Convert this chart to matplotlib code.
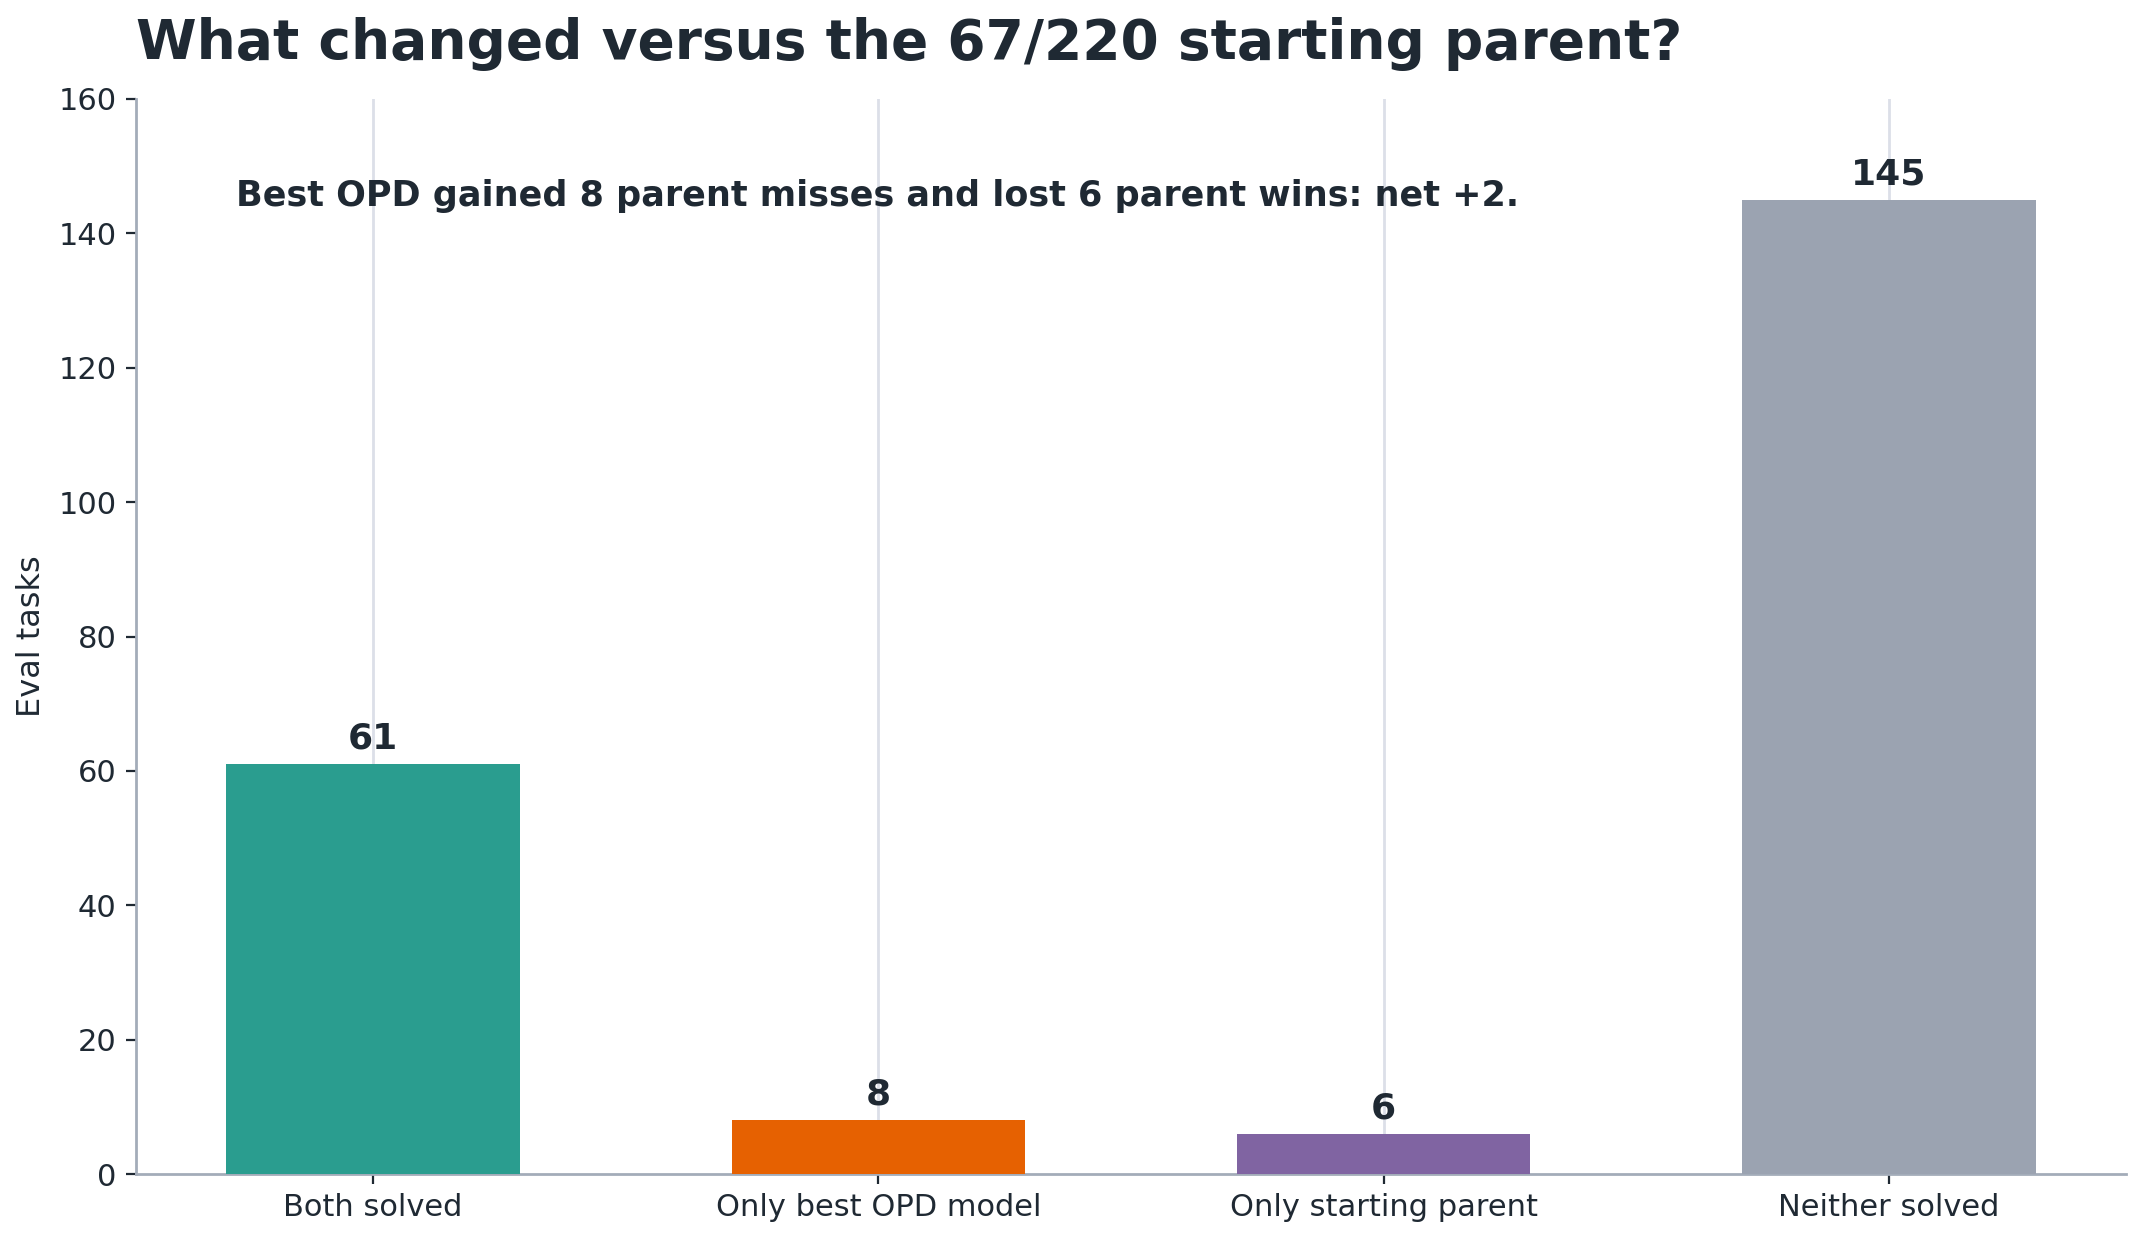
import matplotlib
matplotlib.use("Agg")
import matplotlib.pyplot as plt

categories = ["Both solved", "Only best OPD model", "Only starting parent", "Neither solved"]
counts = [61, 8, 6, 145]
colors = ["#2a9d8f", "#e66101", "#8064a2", "#9ba3b1"]
title = "What changed versus the 67/220 starting parent?"
note = "Best OPD gained 8 parent misses and lost 6 parent wins: net +2."
ylabel = "Eval tasks"

TEXT = "#1f2933"
SPINE = "#a3acb9"

fig = plt.figure(figsize=(10.71, 6.195), dpi=200)
ax = fig.add_axes([136/2142, 1 - 1174/1239, (2126-136)/2142, (1174-99)/1239])

x = list(range(len(categories)))
ax.bar(x, counts, width=0.58, color=colors, zorder=3)
ax.set_ylim(0, 160)
ax.set_xticks(x)
ax.set_xticklabels(categories, fontsize=11, color=TEXT)
ax.tick_params(axis="y", labelsize=11, labelcolor=TEXT, color=TEXT)
ax.tick_params(axis="x", color=TEXT)
ax.set_ylabel(ylabel, fontsize=11.5, color=TEXT)
ax.grid(axis="x", color="#dcdfe8", linewidth=1.0, zorder=0)
ax.set_axisbelow(True)
for s in ["top", "right"]:
    ax.spines[s].set_visible(False)
for s in ["left", "bottom"]:
    ax.spines[s].set_color(SPINE)
    ax.spines[s].set_linewidth(1.0)

for xi, v in zip(x, counts):
    ax.annotate(str(v), (xi, v), xytext=(0, 3), textcoords="offset points",
                ha="center", va="bottom", fontsize=13, fontweight="bold", color=TEXT)

ax.text(0.05, 0.91, note, transform=ax.transAxes, ha="left", va="center",
        fontsize=12.6, fontweight="bold", color=TEXT)

fig.text(136/2142, 1 - 44/1239, title, ha="left", va="center",
         fontsize=19.8, fontweight="bold", color=TEXT)

fig.savefig("out.png", dpi=200)
